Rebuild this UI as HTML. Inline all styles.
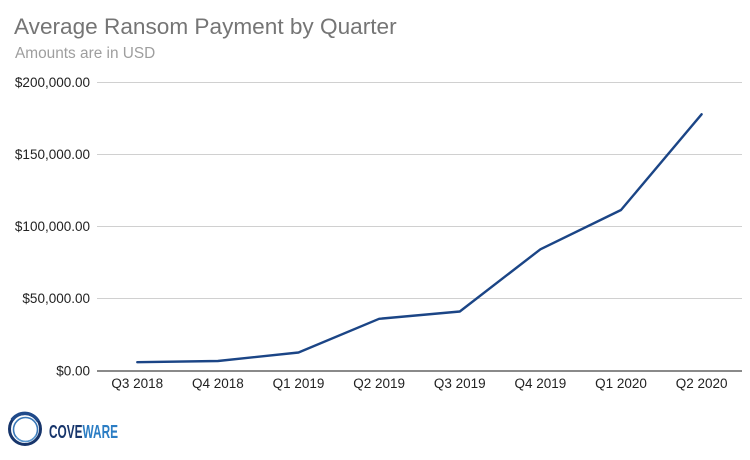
<!DOCTYPE html>
<html><head><meta charset="utf-8"><style>
html,body{margin:0;padding:0;background:#fff;}
svg{display:block;}
</style></head><body>
<svg width="750" height="460" viewBox="0 0 750 460" xmlns="http://www.w3.org/2000/svg" font-family="Liberation Sans, Arial, sans-serif">
<rect width="750" height="460" fill="#fff"/>
<text x="14" y="34" font-size="22.6" fill="#757575">Average Ransom Payment by Quarter</text>
<text x="15" y="58" font-size="15.4" fill="#9e9e9e">Amounts are in USD</text>
<g stroke="#d0d0d0" stroke-width="1">
<line x1="97" y1="82.5" x2="742" y2="82.5"/>
<line x1="97" y1="154.5" x2="742" y2="154.5"/>
<line x1="97" y1="226.5" x2="742" y2="226.5"/>
<line x1="97" y1="298.5" x2="742" y2="298.5"/>
</g>
<line x1="97" y1="371" x2="742" y2="371" stroke="#444" stroke-width="1.2"/>
<g font-size="13.5" fill="#222" text-anchor="end">
<text x="90" y="87">$200,000.00</text>
<text x="90" y="159">$150,000.00</text>
<text x="90" y="231">$100,000.00</text>
<text x="90" y="303">$50,000.00</text>
<text x="90" y="375.5">$0.00</text>
</g>
<g font-size="13.5" fill="#222" text-anchor="middle">
<text x="137.3" y="388">Q3 2018</text>
<text x="217.9" y="388">Q4 2018</text>
<text x="298.5" y="388">Q1 2019</text>
<text x="379.1" y="388">Q2 2019</text>
<text x="459.8" y="388">Q3 2019</text>
<text x="540.4" y="388">Q4 2019</text>
<text x="621" y="388">Q1 2020</text>
<text x="701.6" y="388">Q2 2020</text>
</g>
<polyline fill="none" stroke="#1b4586" stroke-width="2.4" stroke-linejoin="round" stroke-linecap="round"
points="137.3,362.2 217.9,361 298.5,352.5 379.1,318.8 459.8,311.5 540.4,249.3 621,210 701.6,114.3"/>
<!-- logo -->
<g fill="none">
<circle cx="25" cy="429" r="15.5" stroke="#17356b" stroke-width="3"/>
<path d="M 12 420 A 15.5 15.5 0 0 1 38 421" stroke="#1f4a8a" stroke-width="3.5"/>
<circle cx="25.5" cy="429.5" r="12" stroke="#3a78b8" stroke-width="1.6"/>
<path d="M 16 437 A 12 12 0 0 0 36 435" stroke="#5b9ad2" stroke-width="1.2"/>
</g>
<text x="49" y="438" font-size="18" font-weight="bold" textLength="69" lengthAdjust="spacingAndGlyphs"><tspan fill="#17356b">COVE</tspan><tspan fill="#2b7dc4">WARE</tspan></text>
</svg>
</body></html>
